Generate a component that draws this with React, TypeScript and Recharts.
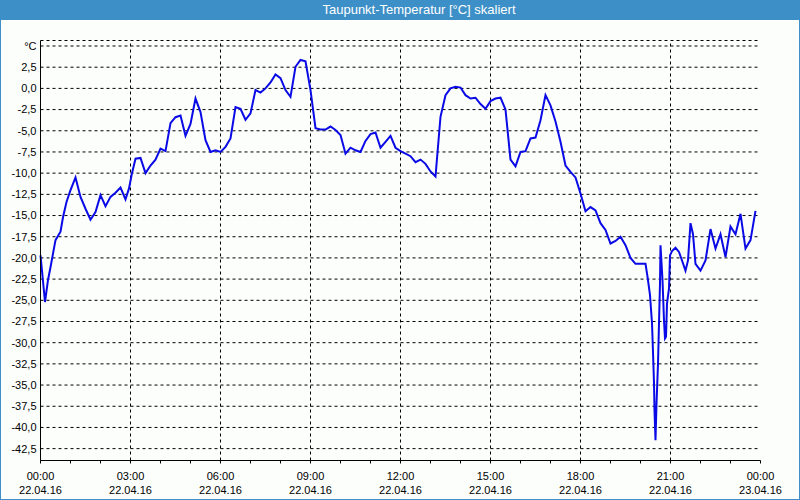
import React from 'react';
import { LineChart, Line, XAxis, YAxis, CartesianGrid, ReferenceLine } from 'recharts';

// minutes since 22.04.16 00:00
const minutes = [
  0, 9, 15, 20, 30, 40, 45, 52, 60, 70, 80, 90, 100, 110, 120, 130, 140, 150, 160, 170,
  177, 183, 190, 200, 210, 220, 230, 240, 250, 260, 270, 280, 290, 300, 310, 320, 330, 340, 350, 360,
  370, 380, 390, 400, 410, 420, 430, 440, 450, 460, 470, 480, 490, 500, 510, 520, 530, 540, 550, 560,
  570, 580, 590, 600, 610, 620, 630, 640, 650, 660, 670, 680, 690, 700, 710, 720, 730, 740, 750, 760,
  770, 780, 790, 800, 810, 820, 830, 840, 850, 860, 870, 880, 890, 900, 910, 920, 930, 940, 950, 960,
  970, 980, 990, 1000, 1010, 1020, 1030, 1040, 1050, 1060, 1070, 1080, 1090, 1100, 1110, 1120, 1130, 1140, 1150, 1160,
  1170, 1180, 1190, 1200, 1210, 1214, 1219, 1223, 1225, 1227, 1228, 1230, 1232, 1235, 1237, 1239, 1240, 1244, 1247, 1249,
  1251, 1253, 1257, 1259, 1263, 1270, 1277, 1283, 1290, 1295, 1300, 1305, 1310, 1320, 1330, 1340, 1350, 1360, 1370, 1380,
  1390, 1400, 1410, 1420, 1430,
];

// Taupunkt in °C
const dewPoint = [
  -19.7, -25.2, -22.6, -21.1, -17.9, -16.9, -15.2, -13.4, -12.0, -10.5, -12.8, -14.2, -15.5, -14.6, -12.6, -13.9, -12.8, -12.3, -11.7, -13.1,
  -11.8, -10.0, -8.3, -8.2, -10.0, -9.1, -8.4, -7.1, -7.4, -4.1, -3.4, -3.2, -5.6, -4.2, -1.2, -2.8, -6.1, -7.5, -7.3, -7.5,
  -6.9, -5.9, -2.2, -2.4, -3.7, -2.95, -0.2, -0.5, 0.0, 0.7, 1.65, 1.2, -0.2, -1.0, 2.55, 3.35, 3.2, -0.2, -4.7, -4.85,
  -4.85, -4.5, -4.9, -5.5, -7.7, -7.0, -7.3, -7.5, -6.2, -5.4, -5.2, -7.0, -6.3, -5.6, -7.0, -7.4, -7.7, -8.0, -8.7, -8.4,
  -8.9, -9.8, -10.4, -3.35, -0.8, 0.0, 0.2, 0.1, -0.8, -1.2, -1.1, -1.85, -2.4, -1.5, -1.2, -1.1, -2.5, -8.4, -9.2, -7.5,
  -7.4, -5.9, -5.8, -3.75, -0.8, -2.0, -3.9, -6.3, -9.1, -9.85, -10.5, -12.4, -14.5, -14.0, -14.4, -15.9, -16.7, -18.3, -18.0, -17.5,
  -18.5, -20.0, -20.7, -20.7, -20.7, -22.2, -24.4, -27.7, -31.1, -34.8, -38.0, -41.5, -37.2, -32.5, -27.7, -23.0, -18.5, -22.6, -27.4, -29.5,
  -29.3, -25.4, -23.6, -19.7, -19.2, -18.8, -19.3, -20.3, -21.5, -20.3, -15.9, -17.2, -20.7, -21.5, -20.3, -16.6, -18.9, -17.2, -19.9, -16.3,
  -17.2, -14.8, -18.9, -17.9, -14.45,
];

const yTicks = [5, 2.5, 0, -2.5, -5, -7.5, -10, -12.5, -15, -17.5, -20, -22.5, -25, -27.5, -30, -32.5, -35, -37.5, -40, -42.5];
const hourTicks = [
  0, 60, 120, 180, 240, 300, 360, 420, 480, 540, 600, 660, 720, 780, 840, 900, 960, 1020, 1080, 1140, 1200, 1260, 1320, 1380, 1440,
];
const majorTicks = [0, 180, 360, 540, 720, 900, 1080, 1260, 1440];
const timeLabels = ['00:00', '03:00', '06:00', '09:00', '12:00', '15:00', '18:00', '21:00', '00:00'];
const dateLabels = ['22.04.16', '22.04.16', '22.04.16', '22.04.16', '22.04.16', '22.04.16', '22.04.16', '22.04.16', '23.04.16'];

const data = minutes.map((t, i) => ({ t, v: dewPoint[i] }));

const BLUE = '#3d8fc7';
const FONT = '"Liberation Sans", Arial, sans-serif';

const TimeTick = (props: any) => {
  const { x, y, payload } = props;
  const idx = majorTicks.indexOf(payload.value);
  if (idx < 0) return null;
  return (
    <g>
      <text x={x} y={y + 16} textAnchor="middle" fontSize={11} fontFamily={FONT} fill="#000">
        {timeLabels[idx]}
      </text>
      <text x={x} y={y + 30} textAnchor="middle" fontSize={11} fontFamily={FONT} fill="#000">
        {dateLabels[idx]}
      </text>
    </g>
  );
};

const fmtY = (v: number) => (v === 5 ? '°C' : v.toFixed(1).replace('.', ','));

const App: React.FC = () => {
  return (
    <div
      style={{
        position: 'absolute',
        left: 0,
        top: 0,
        width: 800,
        height: 500,
        background: '#fcfefc',
        boxShadow: `inset 0 0 0 1px ${BLUE}`,
        fontFamily: FONT,
      }}
    >
      <div
        style={{
          position: 'absolute',
          left: 0,
          top: 0,
          width: 800,
          height: 20,
          background: BLUE,
          color: '#fff',
          fontSize: 13,
          lineHeight: '20px',
          textAlign: 'center',
          paddingLeft: 38,
          boxSizing: 'border-box',
        }}
      >
        Taupunkt-Temperatur [°C] skaliert
      </div>
      <div style={{ position: 'absolute', left: 0, top: 0 }}>
        <LineChart width={800} height={500} data={data} margin={{ top: 40.5, right: 39.5, bottom: 0, left: 0.5 }}>
          <CartesianGrid vertical={false} stroke="#000" strokeDasharray="3 3" />
          {majorTicks.slice(1, -1).map((m) => (
            <ReferenceLine key={m} x={m} stroke="#000" strokeDasharray="3 3" />
          ))}
          <XAxis
            dataKey="t"
            type="number"
            domain={[0, 1440]}
            ticks={hourTicks}
            interval={0}
            height={39.5}
            tickSize={3}
            tickMargin={0}
            tickLine={{ stroke: '#000' }}
            axisLine={{ stroke: '#000' }}
            tick={<TimeTick />}
          />
          <XAxis
            xAxisId="top"
            orientation="top"
            type="number"
            domain={[0, 1440]}
            height={0}
            tick={false}
            tickLine={false}
            axisLine={{ stroke: '#000' }}
          />
          <YAxis
            type="number"
            domain={[-43.9, 5.65]}
            ticks={yTicks}
            interval={0}
            width={40}
            tickLine={false}
            tickSize={0}
            tickMargin={4}
            axisLine={{ stroke: '#000' }}
            tickFormatter={fmtY}
            tick={{ fontSize: 11, fill: '#000', fontFamily: FONT }}
          />
          <YAxis
            yAxisId="right"
            orientation="right"
            type="number"
            domain={[-43.9, 5.65]}
            width={0}
            tick={false}
            tickLine={false}
            axisLine={{ stroke: '#000' }}
          />
          <Line
            type="linear"
            dataKey="v"
            stroke="#0a0ae6"
            strokeWidth={2}
            dot={false}
            isAnimationActive={false}
          />
        </LineChart>
      </div>
    </div>
  );
};

export default App;
